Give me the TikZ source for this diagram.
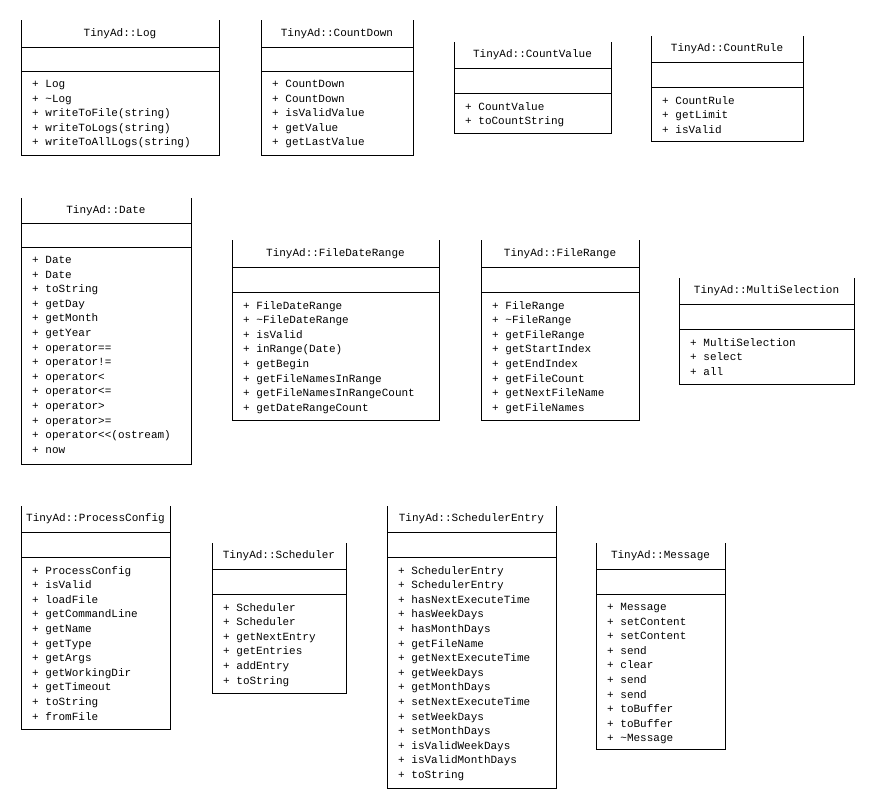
\documentclass[tikz,border=0pt]{standalone}
\usepackage{fontspec}
\setmainfont{Liberation Mono}
\usepackage{tikz}

\tikzset{
  umlline/.style={line width=0.8pt, black},
  umltitle/.style={inner sep=0pt, font=\fontsize{11}{12}\selectfont},
  umlops/.style={inner sep=0pt, align=left, anchor=north west, font=\fontsize{11}{14.6}\selectfont},
}

% id, left, right, top, sep1, sep2, bottom, title, operations
\newcommand{\umlclass}[9]{%
  \draw[umlline] (#2,#4) -- (#2,#7) -- (#3,#7) -- (#3,#4);
  \draw[umlline] (#2,#5) -- (#3,#5);
  \draw[umlline] (#2,#6) -- (#3,#6);
  \node[umltitle] (#1-name) at ({(#2+#3)/2},{(#4+#5)/2}) {#8};
  \node[umlops] (#1-ops) at (#2+11,#6+9) {#9};
}

\begin{document}
\begin{tikzpicture}[x=1pt,y=-1pt]
\fill[white] (0,0) rectangle (874,809);
\useasboundingbox (0,0) rectangle (874,809);

%Row 1
\umlclass{log}{21}{219}{20}{47}{71}{155}{TinyAd::Log}
  {+ Log\\+ \textasciitilde Log\\+ writeToFile(string)\\+ writeToLogs(string)\\+ writeToAllLogs(string)}
\umlclass{countdown}{261}{413}{20}{47}{71}{155}{TinyAd::CountDown}
  {+ CountDown\\+ CountDown\\+ isValidValue\\+ getValue\\+ getLastValue}
\umlclass{countvalue}{454}{611}{42}{68}{93}{133}{TinyAd::CountValue}
  {+ CountValue\\+ toCountString}
\umlclass{countrule}{651}{803}{36}{62}{87}{141}{TinyAd::CountRule}
  {+ CountRule\\+ getLimit\\+ isValid}

%Row 2
\umlclass{date}{21}{191}{198}{223}{247}{464}{TinyAd::Date}
  {+ Date\\+ Date\\+ toString\\+ getDay\\+ getMonth\\+ getYear\\+ operator==\\+ operator!=\\+ operator<\\+ operator<=\\+ operator>\\+ operator>=\\+ operator{<}{<}(ostream)\\+ now}
\umlclass{filedaterange}{232}{439}{240}{267}{292}{420}{TinyAd::FileDateRange}
  {+ FileDateRange\\+ \textasciitilde FileDateRange\\+ isValid\\+ inRange(Date)\\+ getBegin\\+ getFileNamesInRange\\+ getFileNamesInRangeCount\\+ getDateRangeCount}
\umlclass{filerange}{481}{639}{240}{267}{292}{420}{TinyAd::FileRange}
  {+ FileRange\\+ \textasciitilde FileRange\\+ getFileRange\\+ getStartIndex\\+ getEndIndex\\+ getFileCount\\+ getNextFileName\\+ getFileNames}
\umlclass{multiselection}{679}{854}{278}{304}{329}{384}{TinyAd::MultiSelection}
  {+ MultiSelection\\+ select\\+ all}

%Row 3
\umlclass{processconfig}{21}{170}{506}{532}{557}{729}{TinyAd::ProcessConfig}
  {+ ProcessConfig\\+ isValid\\+ loadFile\\+ getCommandLine\\+ getName\\+ getType\\+ getArgs\\+ getWorkingDir\\+ getTimeout\\+ toString\\+ fromFile}
\umlclass{scheduler}{212}{346}{543}{569}{594}{693}{TinyAd::Scheduler}
  {+ Scheduler\\+ Scheduler\\+ getNextEntry\\+ getEntries\\+ addEntry\\+ toString}
\umlclass{schedulerentry}{387}{556}{506}{532}{557}{788}{TinyAd::SchedulerEntry}
  {+ SchedulerEntry\\+ SchedulerEntry\\+ hasNextExecuteTime\\+ hasWeekDays\\+ hasMonthDays\\+ getFileName\\+ getNextExecuteTime\\+ getWeekDays\\+ getMonthDays\\+ setNextExecuteTime\\+ setWeekDays\\+ setMonthDays\\+ isValidWeekDays\\+ isValidMonthDays\\+ toString}
\umlclass{message}{596}{725}{543}{569}{594}{749}{TinyAd::Message}
  {+ Message\\+ setContent\\+ setContent\\+ send\\+ clear\\+ send\\+ send\\+ toBuffer\\+ toBuffer\\+ \textasciitilde Message}

\end{tikzpicture}
\end{document}
